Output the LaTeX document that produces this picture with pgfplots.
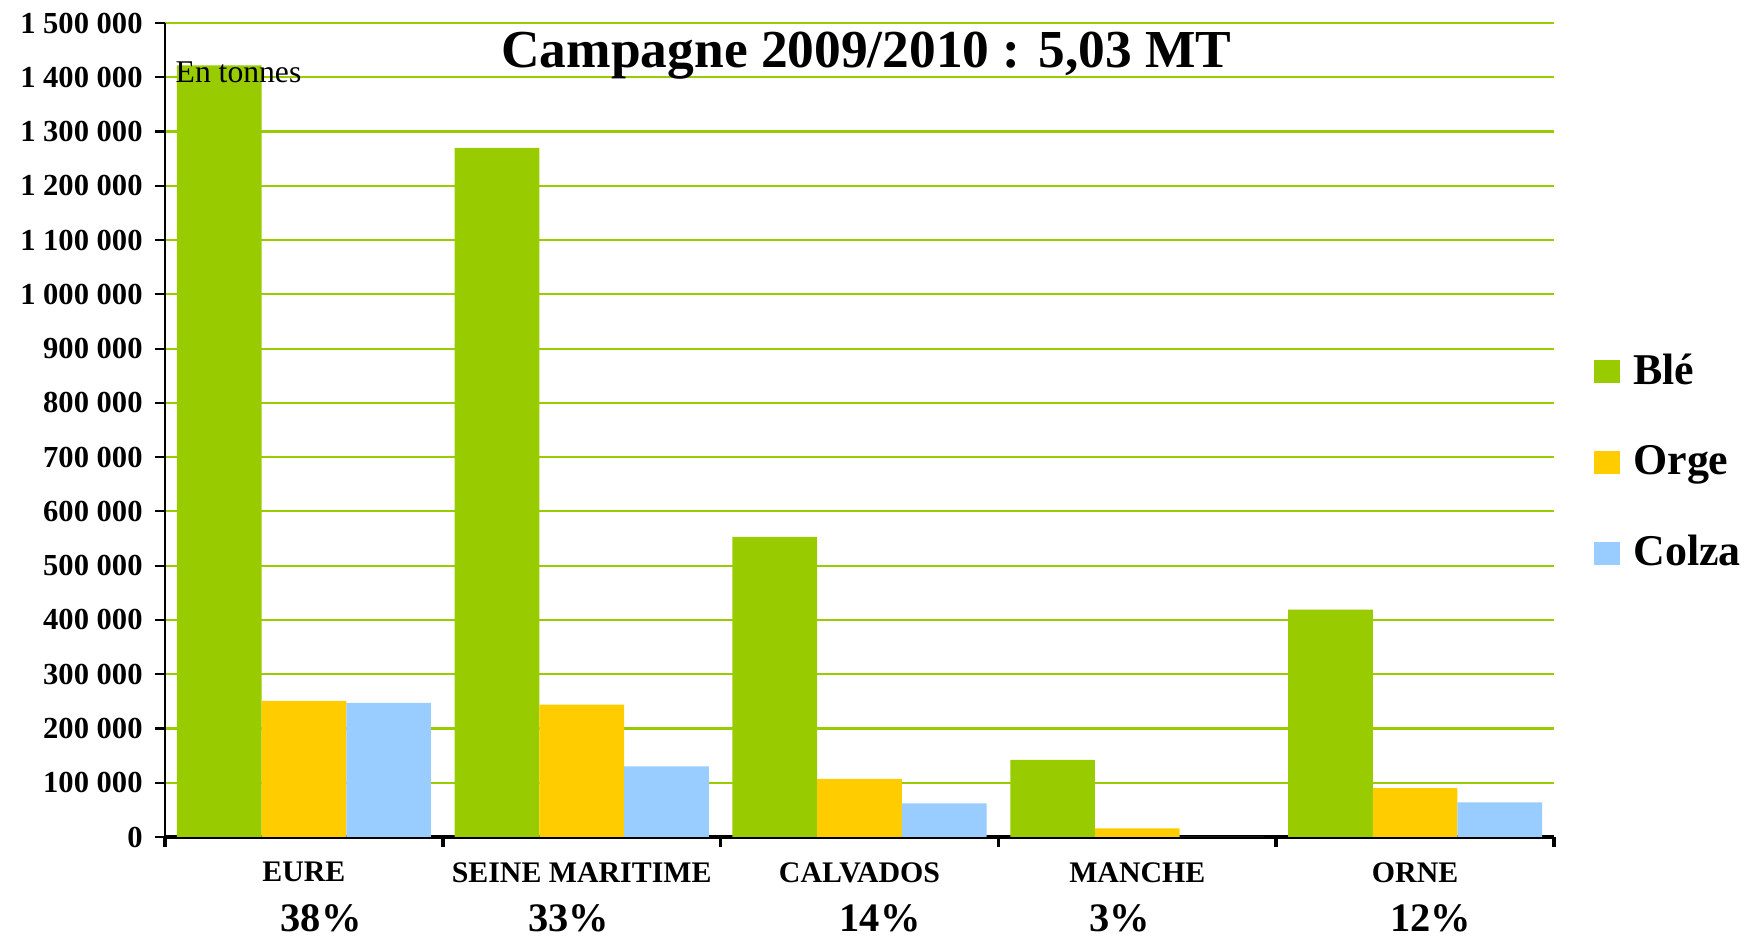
\documentclass[border=0pt]{standalone}
\usepackage{pgfplots}
\pgfplotsset{compat=1.18}
\usepackage{fontspec}
\setmainfont{Liberation Serif}
\definecolor{ble}{HTML}{99CC00}
\definecolor{orge}{HTML}{FFCC00}
\definecolor{colza}{HTML}{99CCFF}
\begin{document}
\begin{tikzpicture}
\useasboundingbox (-16.5mm,-9.9mm) rectangle (158.2mm,83.7mm);
\begin{axis}[
  at={(0,0)}, anchor=south west,
  scale only axis, width=138.9mm, height=81.4mm,
  clip=false,
  ybar=0pt, bar width=8.47mm,
  xmin=-0.5, xmax=4.5, ymin=0, ymax=1500000,
  axis x line*=bottom, axis y line*=left,
  x axis line style={line width=1.2pt, -},
  y axis line style={line width=0.6pt, -},
  tick align=outside,
  major tick length=1mm,
  xtick={-0.5,0.5,1.5,2.5,3.5,4.5}, xticklabels={},
  xtick style={draw=black, line width=1pt},
  extra x ticks={0,1,2,3,4},
  extra x tick labels={EURE,SEINE MARITIME,CALVADOS,MANCHE,ORNE},
  extra x tick style={grid=none, major tick length=0pt},
  xticklabel style={font=\bfseries\fontsize{8.5}{10}\selectfont, yshift=-1.3mm},
  ytick={0,100000,200000,300000,400000,500000,600000,700000,800000,900000,1000000,1100000,1200000,1300000,1400000,1500000},
  yticklabels={0,100 000,200 000,300 000,400 000,500 000,600 000,700 000,800 000,900 000,1 000 000,1 100 000,1 200 000,1 300 000,1 400 000,1 500 000},
  yticklabel style={font=\bfseries\fontsize{8.7}{10}\selectfont},
  ytick style={draw=black, line width=0.6pt},
  ymajorgrids,
  major grid style={draw=ble, line width=0.6pt},
  legend style={draw=none, fill=none, at={(rel axis cs:1.0285,0.460)}, anchor=west,
    font=\bfseries\fontsize{12.5}{14}\selectfont, row sep=4.15mm, column sep=0.6mm, inner sep=0pt},
  legend cell align=left,
  legend image code/.code={\fill[#1] (0mm,-1.15mm) rectangle (2.6mm,1.15mm);},
]
\addplot[fill=ble, draw=none] coordinates {(0,1422000) (1,1270000) (2,553000) (3,142000) (4,419000)};
\addplot[fill=orge, draw=none] coordinates {(0,251000) (1,244000) (2,107000) (3,16000) (4,90000)};
\addplot[fill=colza, draw=none] coordinates {(0,247000) (1,130000) (2,62000) (3,0) (4,64000)};
\legend{Blé,Orge,Colza}
\node[anchor=base west, inner sep=0pt, font=\fontsize{9}{10}\selectfont] at (rel axis cs:0.0072,0.9275) {En tonnes};
\node[font=\bfseries\fontsize{15.2}{17}\selectfont] at (rel axis cs:0.505,0.960) {Campagne 2009/2010 : 5,03 MT};
\node[font=\bfseries\fontsize{11.5}{13}\selectfont] at (axis cs:0.0616,0) [yshift=-8.1mm] {38\%};
\node[font=\bfseries\fontsize{11.5}{13}\selectfont] at (axis cs:0.954,0) [yshift=-8.1mm] {33\%};
\node[font=\bfseries\fontsize{11.5}{13}\selectfont] at (axis cs:2.074,0) [yshift=-8.1mm] {14\%};
\node[font=\bfseries\fontsize{11.5}{13}\selectfont] at (axis cs:2.938,0) [yshift=-8.1mm] {3\%};
\node[font=\bfseries\fontsize{11.5}{13}\selectfont] at (axis cs:4.057,0) [yshift=-8.1mm] {12\%};
\end{axis}
\end{tikzpicture}
\end{document}
